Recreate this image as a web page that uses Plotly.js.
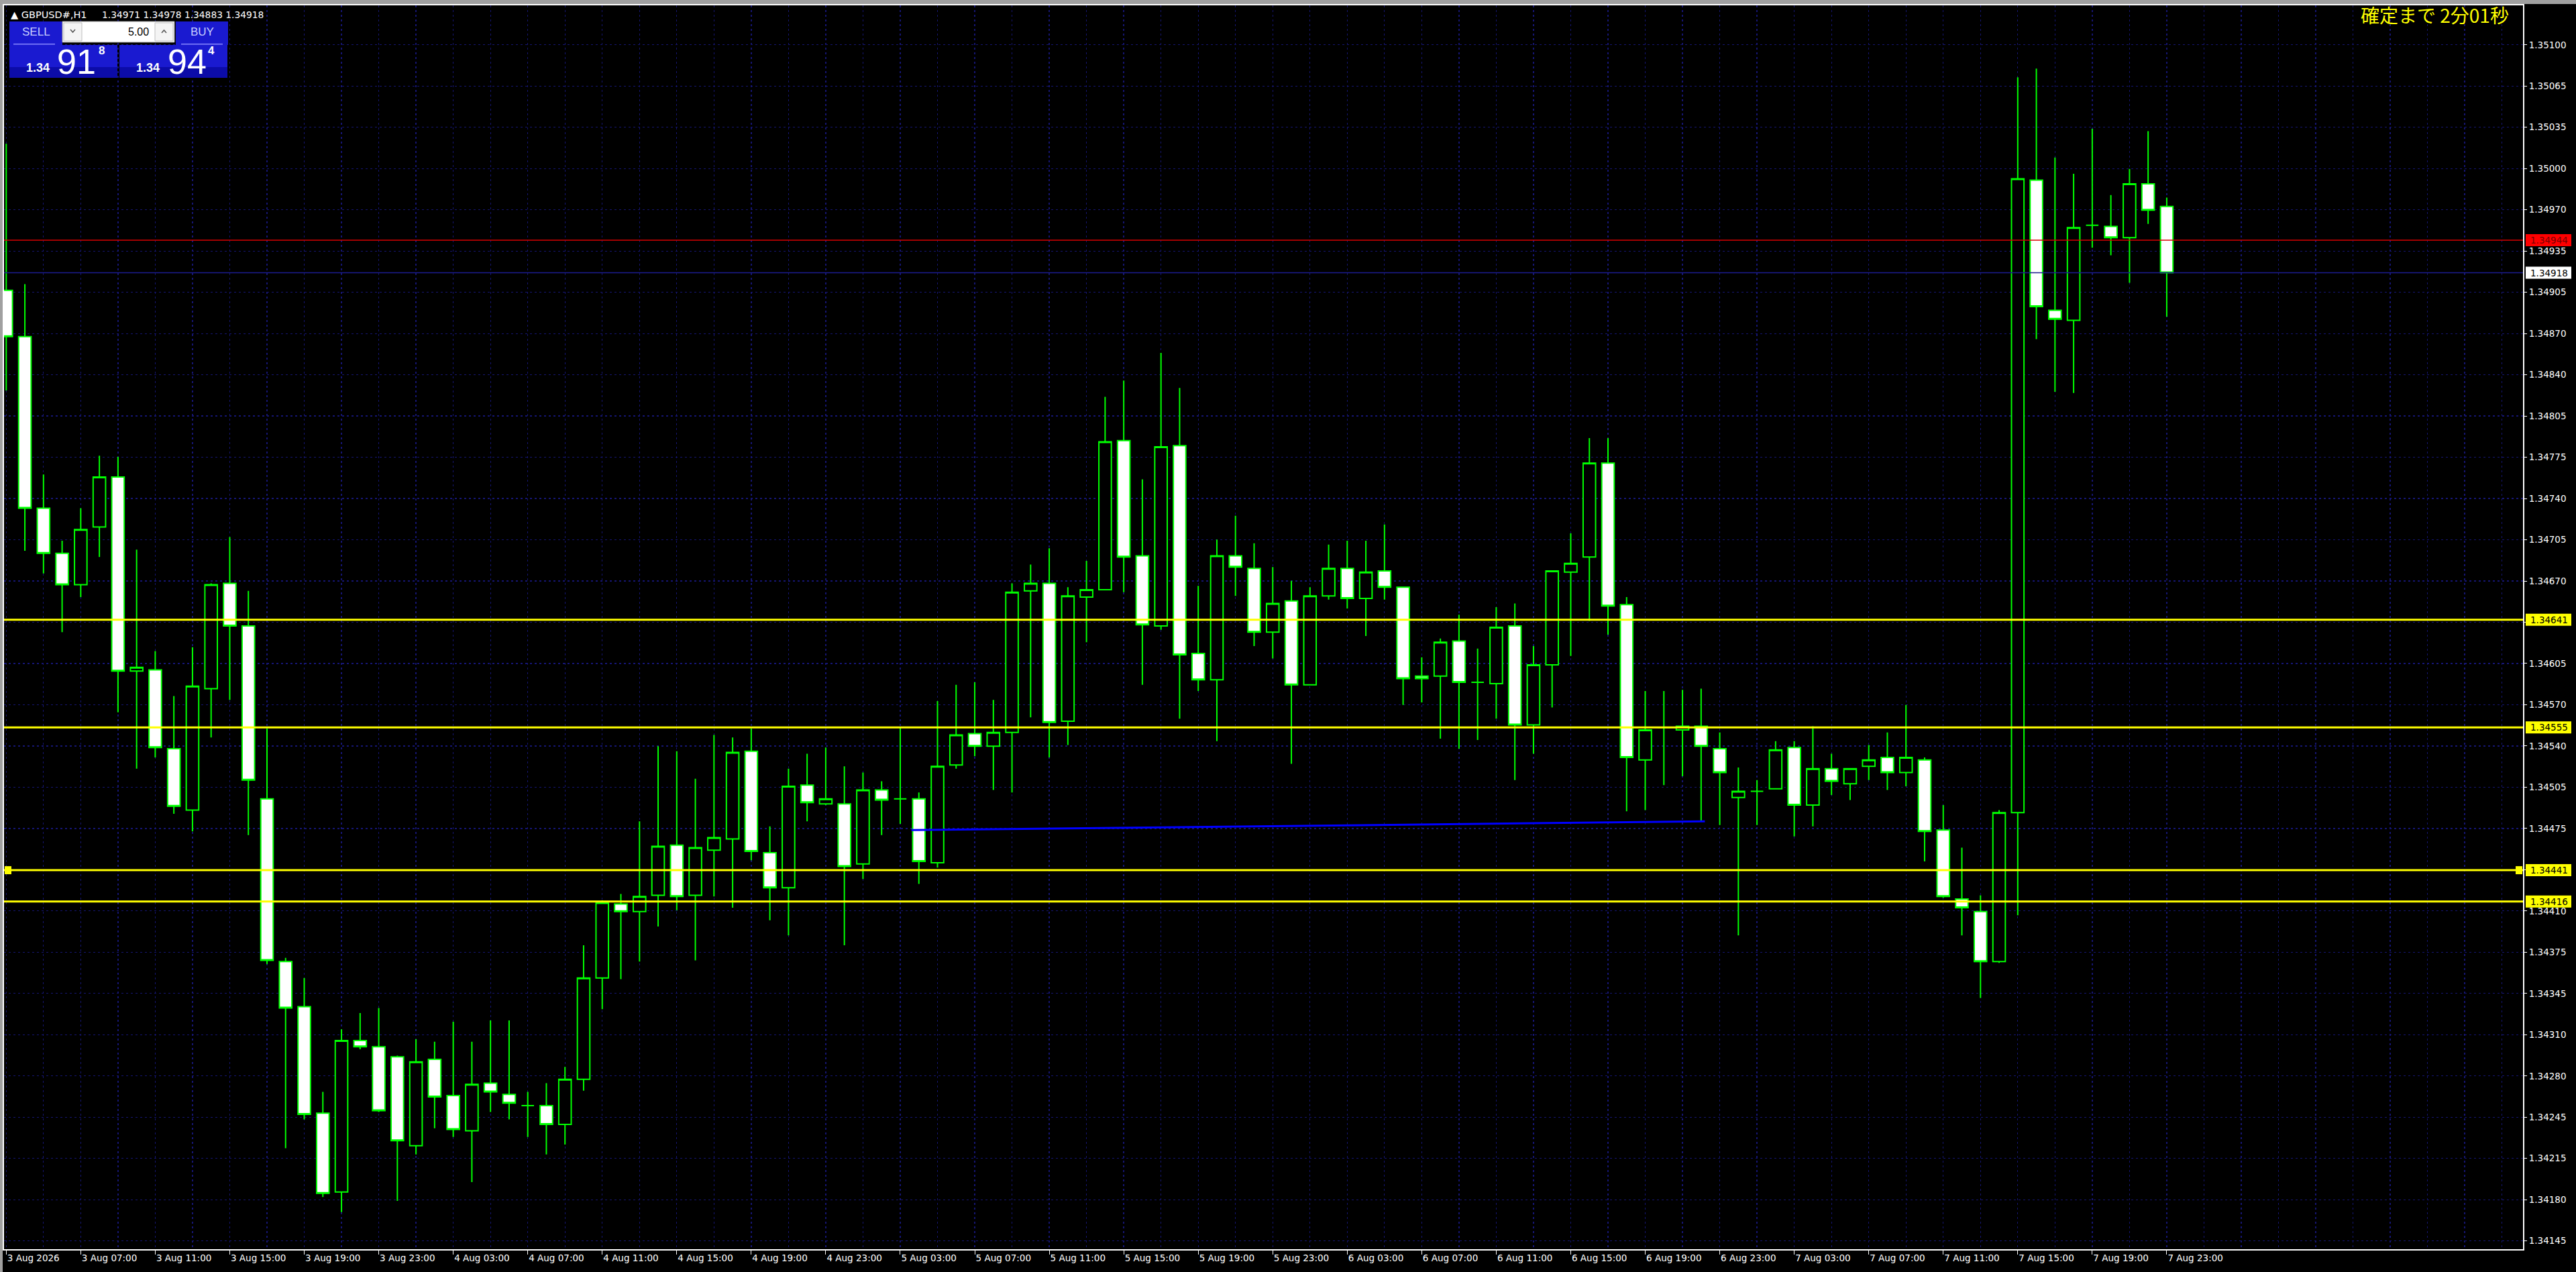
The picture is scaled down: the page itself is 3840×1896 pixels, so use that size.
<!DOCTYPE html>
<html>
<head>
<meta charset="utf-8">
<script src="https://cdn.plot.ly/plotly-3.0.1.min.js"></script>
<style>
html,body{margin:0;padding:0;background:#000;}
#chart{width:3840px;height:1896px;}
</style>
</head>
<body>
<div id="chart"></div>
<script>
// ---------------- DATA (GBPUSD#, H1, bars from 3 Aug 2026 03:00 to 7 Aug 2026 23:00) ----------------
const barIndex = Array.from({length: 117}, (_, i) => i);

const openP = [
1.34904,1.34867,1.34730,1.34694,1.34669,1.34715,1.34755,1.34600,1.34601,1.34538,
1.34489,1.34586,1.34670,1.34636,1.34498,1.34368,1.34332,1.34247,1.34184,1.34305,
1.34300,1.34292,1.34221,1.34290,1.34261,1.34233,1.34271,1.34262,1.34253,1.34253,
1.34238,1.34274,1.34355,1.34414,1.34408,1.34421,1.34461,1.34421,1.34457,1.34466,
1.34536,1.34455,1.34427,1.34509,1.34494,1.34494,1.34446,1.34505,1.34498,1.34498,
1.34447,1.34525,1.34550,1.34540,1.34551,1.34664,1.34670,1.34560,1.34659,1.34665,
1.34784,1.34692,1.34636,1.34780,1.34614,1.34593,1.34692,1.34682,1.34631,1.34656,
1.34589,1.34660,1.34682,1.34658,1.34680,1.34667,1.34596,1.34596,1.34624,1.34591,
1.34590,1.34636,1.34557,1.34605,1.34679,1.34691,1.34766,1.34653,1.34529,1.34555,
1.34553,1.34556,1.34538,1.34499,1.34504,1.34506,1.34539,1.34493,1.34522,1.34510,
1.34524,1.34531,1.34519,1.34529,1.34473,1.34418,1.34408,1.34368,1.34487,1.34992,
1.34888,1.34880,1.34956,1.34955,1.34946,1.34989,1.34971];

const highP = [
1.35021,1.34909,1.34757,1.34704,1.34730,1.34772,1.34771,1.34697,1.34616,1.34580,
1.34619,1.34670,1.34707,1.34664,1.34554,1.34371,1.34355,1.34264,1.34314,1.34327,
1.34331,1.34293,1.34306,1.34304,1.34320,1.34304,1.34321,1.34321,1.34264,1.34271,
1.34284,1.34381,1.34417,1.34422,1.34480,1.34540,1.34536,1.34514,1.34549,1.34547,
1.34554,1.34476,1.34522,1.34534,1.34539,1.34524,1.34519,1.34512,1.34555,1.34503,
1.34576,1.34589,1.34591,1.34577,1.34670,1.34685,1.34698,1.34667,1.34688,1.34819,
1.34832,1.34753,1.34854,1.34826,1.34668,1.34705,1.34724,1.34702,1.34683,1.34672,
1.34667,1.34701,1.34704,1.34704,1.34717,1.34667,1.34611,1.34626,1.34645,1.34618,
1.34651,1.34654,1.34620,1.34680,1.34710,1.34786,1.34786,1.34659,1.34584,1.34584,
1.34585,1.34586,1.34551,1.34523,1.34513,1.34544,1.34544,1.34556,1.34534,1.34522,
1.34541,1.34551,1.34573,1.34531,1.34493,1.34459,1.34421,1.34489,1.35074,1.35081,
1.35010,1.34997,1.35033,1.34980,1.35001,1.35031,1.34978];

const lowP = [
1.34824,1.34696,1.34678,1.34631,1.34659,1.34691,1.34567,1.34522,1.34531,1.34486,
1.34472,1.34547,1.34577,1.34469,1.34366,1.34219,1.34242,1.34180,1.34168,1.34298,
1.34248,1.34177,1.34214,1.34235,1.34228,1.34192,1.34248,1.34242,1.34228,1.34214,
1.34222,1.34265,1.34330,1.34354,1.34368,1.34396,1.34409,1.34369,1.34420,1.34411,
1.34449,1.34401,1.34389,1.34480,1.34493,1.34381,1.34434,1.34469,1.34478,1.34430,
1.34443,1.34522,1.34532,1.34505,1.34503,1.34563,1.34531,1.34541,1.34623,1.34665,
1.34663,1.34589,1.34633,1.34562,1.34584,1.34544,1.34660,1.34620,1.34610,1.34526,
1.34589,1.34657,1.34650,1.34628,1.34657,1.34573,1.34575,1.34546,1.34538,1.34545,
1.34562,1.34513,1.34534,1.34571,1.34612,1.34640,1.34629,1.34488,1.34489,1.34509,
1.34516,1.34480,1.34477,1.34389,1.34477,1.34506,1.34468,1.34476,1.34501,1.34497,
1.34513,1.34505,1.34508,1.34448,1.34419,1.34389,1.34339,1.34367,1.34405,1.34865,
1.34823,1.34822,1.34938,1.34932,1.34910,1.34957,1.34883];

const closeP = [
1.34867,1.34730,1.34694,1.34669,1.34713,1.34755,1.34600,1.34603,1.34539,1.34492,
1.34588,1.34669,1.34636,1.34513,1.34369,1.34331,1.34246,1.34183,1.34305,1.34300,
1.34249,1.34225,1.34288,1.34260,1.34234,1.34270,1.34264,1.34255,1.34253,1.34238,
1.34274,1.34355,1.34415,1.34408,1.34420,1.34460,1.34420,1.34459,1.34467,1.34535,
1.34456,1.34427,1.34508,1.34495,1.34498,1.34444,1.34505,1.34497,1.34498,1.34448,
1.34524,1.34549,1.34540,1.34551,1.34663,1.34670,1.34559,1.34660,1.34665,1.34783,
1.34691,1.34637,1.34779,1.34613,1.34593,1.34692,1.34683,1.34631,1.34654,1.34589,
1.34660,1.34682,1.34658,1.34679,1.34667,1.34594,1.34594,1.34623,1.34591,1.34591,
1.34635,1.34557,1.34605,1.34680,1.34686,1.34766,1.34652,1.34531,1.34553,1.34555,
1.34556,1.34540,1.34519,1.34504,1.34504,1.34537,1.34493,1.34522,1.34512,1.34522,
1.34529,1.34519,1.34531,1.34472,1.34420,1.34411,1.34368,1.34487,1.34993,1.34891,
1.34881,1.34954,1.34956,1.34946,1.34989,1.34968,1.34918];

// time axis labels (one every 4 bars)
const timeLabels = [
"3 Aug 2026","3 Aug 07:00","3 Aug 11:00","3 Aug 15:00","3 Aug 19:00","3 Aug 23:00",
"4 Aug 03:00","4 Aug 07:00","4 Aug 11:00","4 Aug 15:00","4 Aug 19:00","4 Aug 23:00",
"5 Aug 03:00","5 Aug 07:00","5 Aug 11:00","5 Aug 15:00","5 Aug 19:00","5 Aug 23:00",
"6 Aug 03:00","6 Aug 07:00","6 Aug 11:00","6 Aug 15:00","6 Aug 19:00","6 Aug 23:00",
"7 Aug 03:00","7 Aug 07:00","7 Aug 11:00","7 Aug 15:00","7 Aug 19:00","7 Aug 23:00"];
const timeLabelStep = 4;

// price scale labels
const priceLabels = [
"1.35100","1.35065","1.35035","1.35000","1.34970","1.34935","1.34905","1.34870","1.34840","1.34805",
"1.34775","1.34740","1.34705","1.34670","1.34635","1.34605","1.34570","1.34540","1.34505","1.34475",
"1.34440","1.34410","1.34375","1.34345","1.34310","1.34280","1.34245","1.34215","1.34180","1.34145"];

// horizontal levels
const yellowLevels = [1.34641, 1.34555, 1.34441, 1.34416];
const askLevel = 1.34944;
const bidLevel = 1.34918;

// trend line (bar position, price)
const trendX = [48.6, 91.2];
const trendY = [1.34473, 1.34480];

// header / trading panel texts
const symbolText = "GBPUSD#,H1";
const headerOHLC = ["1.34971","1.34978","1.34883","1.34918"];
const lotSize = "5.00";
const sellQuote = {pre:"1.34", big:"91", sup:"8"};
const buyQuote  = {pre:"1.34", big:"94", sup:"4"};
const timerText = "確定まで 2分01秒";

// ---------------- LAYOUT GEOMETRY ----------------
const W = 3840, H = 1896;
const PL = 6, PR = 3761, PT = 8, PB = 1862;
const px = x => (x - PL) / (PR - PL);
const py = y => (PB - y) / (PB - PT);
const yTop = 1.351315, yBot = 1.341384;
const barW = 27.764, bar0X = 9.3;
const xMin = (PL - bar0X) / barW, xMax = (PR - bar0X) / barW;

const first = parseFloat(priceLabels[0]), last = parseFloat(priceLabels[priceLabels.length-1]);
const priceTickVals = priceLabels.map((_, i) => first + (last - first) * i / (priceLabels.length - 1));
const timeTickVals = timeLabels.map((_, i) => i * timeLabelStep);

const GRID = '#151572';
const AXFONT = {family: 'DejaVu Sans', size: 13.5, color: '#ffffff'};

const traces = [{
  type: 'candlestick',
  x: barIndex, open: openP, high: highP, low: lowP, close: closeP,
  increasing: {line: {color: '#00ff00', width: 2}, fillcolor: '#000000'},
  decreasing: {line: {color: '#00ff00', width: 2}, fillcolor: '#ffffff'},
  whiskerwidth: 0,
  hoverinfo: 'skip',
  showlegend: false
}, {
  type: 'scatter', mode: 'lines',
  x: trendX, y: trendY,
  line: {color: '#0000ff', width: 3},
  hoverinfo: 'skip', showlegend: false
}];

const shapes = [];
const annotations = [];

// horizontal yellow levels
yellowLevels.forEach(v => {
  shapes.push({type: 'line', xref: 'paper', x0: 0, x1: 1, yref: 'y', y0: v, y1: v,
    line: {color: '#ffff00', width: 3}, layer: 'above'});
});
// ask (red) and bid lines
shapes.push({type: 'line', xref: 'paper', x0: 0, x1: 1, yref: 'y', y0: askLevel, y1: askLevel,
  line: {color: '#d80000', width: 1.5}, layer: 'above'});
shapes.push({type: 'line', xref: 'paper', x0: 0, x1: 1, yref: 'y', y0: bidLevel, y1: bidLevel,
  line: {color: '#1c1c90', width: 1.5}, layer: 'above'});

// selection markers of the 1.34441 line
shapes.push({type: 'rect', xref: 'paper', yref: 'y', xsizemode: 'pixel', xanchor: 0, x0: 1, x1: 11,
  ysizemode: 'pixel', yanchor: yellowLevels[2], y0: -6, y1: 6, fillcolor: '#ffff00', line: {width: 0}, layer: 'above'});
shapes.push({type: 'rect', xref: 'paper', yref: 'y', xsizemode: 'pixel', xanchor: 1, x0: -11, x1: -1,
  ysizemode: 'pixel', yanchor: yellowLevels[2], y0: -6, y1: 6, fillcolor: '#ffff00', line: {width: 0}, layer: 'above'});

// right-side price boxes
function priceBox(v, bg, fg) {
  shapes.push({type: 'rect', xref: 'paper', yref: 'y', xsizemode: 'pixel', xanchor: 1, x0: 4, x1: 72,
    ysizemode: 'pixel', yanchor: v, y0: -9, y1: 9, fillcolor: bg, line: {width: 0}, layer: 'above'});
  annotations.push({xref: 'paper', yref: 'y', x: px(3800), y: v, xanchor: 'center', yanchor: 'middle',
    text: v.toFixed(5), showarrow: false, font: {family: 'DejaVu Sans', size: 13.5, color: fg}});
}
yellowLevels.forEach(v => priceBox(v, '#ffff00', '#000000'));
priceBox(askLevel, '#ff0000', '#7a0000');
priceBox(bidLevel, '#ffffff', '#000000');

// window chrome: grey band top and left
shapes.push({type: 'rect', xref: 'paper', yref: 'paper', x0: px(0), x1: px(W), y0: py(6), y1: py(0),
  fillcolor: '#a0a0a0', line: {width: 0}, layer: 'above'});
shapes.push({type: 'rect', xref: 'paper', yref: 'paper', x0: px(0), x1: px(4), y0: py(H), y1: py(0),
  fillcolor: '#a0a0a0', line: {width: 0}, layer: 'above'});

// header text
annotations.push({xref: 'paper', yref: 'paper', x: px(14), y: py(22), xanchor: 'left', yanchor: 'middle',
  text: '▲ ' + symbolText, showarrow: false, font: {family: 'DejaVu Sans', size: 14.5, color: '#ffffff'}});
annotations.push({xref: 'paper', yref: 'paper', x: px(150), y: py(22), xanchor: 'left', yanchor: 'middle',
  text: headerOHLC.join(' '), showarrow: false, font: {family: 'DejaVu Sans', size: 13.8, color: '#ffffff'}});

// timer text
annotations.push({xref: 'paper', yref: 'paper', x: px(3742), y: py(22), xanchor: 'right', yanchor: 'middle',
  text: timerText, showarrow: false, font: {family: 'Noto Sans CJK JP', size: 28, color: '#ffff00'}});

// one-click trading panel
function prect(x0, y0, x1, y1, fill, lineColor, lw) {
  shapes.push({type: 'rect', xref: 'paper', yref: 'paper', x0: px(x0), x1: px(x1), y0: py(y1), y1: py(y0),
    fillcolor: fill, line: {color: lineColor || fill, width: lw || 0}, layer: 'above'});
}
function ppath(pts, color, w) {
  const d = pts.map((p, i) => (i ? 'L' : 'M') + px(p[0]) + ',' + py(p[1])).join(' ');
  shapes.push({type: 'path', xref: 'paper', yref: 'paper', path: d, line: {color: color, width: w}, layer: 'above'});
}
function ptext(x, y, t, size, color, anchor, weight) {
  annotations.push({xref: 'paper', yref: 'paper', x: px(x), y: py(y), xanchor: anchor || 'center', yanchor: 'middle',
    text: t, showarrow: false, font: {family: 'Liberation Sans', size: size, color: color, weight: weight || 'normal'}});
}
const BLUE = '#1a1ad0', BLUE_D = '#0c0ca8';
prect(14, 32, 93, 67, BLUE);
prect(262, 32, 340, 67, BLUE);
prect(14, 67, 175, 116, BLUE);
prect(178, 67, 339, 116, BLUE);
prect(14, 100, 175, 116, BLUE_D);
prect(178, 100, 339, 116, BLUE_D);
prect(20, 65, 82, 66.5, '#8a8aff');
prect(270, 65, 332, 66.5, '#8a8aff');
prect(93, 32, 260, 63, '#ffffff', '#9a9a9a', 1);
prect(95, 34, 122, 61, '#f4f4f4', '#c0c0c0', 1);
prect(231, 34, 258, 61, '#f4f4f4', '#c0c0c0', 1);
ppath([[105, 44], [108.5, 48], [112, 44]], '#555555', 1.5);
ppath([[241, 49], [244.5, 45], [248, 49]], '#555555', 1.5);
ptext(54, 47, 'SELL', 17, '#c8d0ff');
ptext(301, 47, 'BUY', 17, '#c8d0ff');
ptext(224, 47, lotSize, 16, '#000000', 'right');
ptext(37, 101, sellQuote.pre, 18, '#ffffff', 'left', 'bold');
ptext(83, 92, sellQuote.big, 52, '#ffffff', 'left');
ptext(151, 75, sellQuote.sup, 17, '#ffffff', 'center', 'bold');
ptext(201, 101, buyQuote.pre, 18, '#ffffff', 'left', 'bold');
ptext(248, 92, buyQuote.big, 52, '#ffffff', 'left');
ptext(315, 75, buyQuote.sup, 17, '#ffffff', 'center', 'bold');

const layout = {
  width: W, height: H,
  margin: {l: PL, r: W - PR, t: PT, b: H - PB, pad: 0},
  paper_bgcolor: '#000000', plot_bgcolor: '#000000',
  showlegend: false,
  boxgap: 0.33, boxgroupgap: 0,
  xaxis: {
    type: 'linear', range: [xMin, xMax], fixedrange: true,
    rangeslider: {visible: false},
    tickmode: 'array', tickvals: timeTickVals, ticktext: timeLabels,
    ticks: 'outside', ticklen: 6, tickcolor: '#ffffff', tickwidth: 1,
    ticklabelposition: 'outside right',
    tickfont: AXFONT,
    showgrid: true, gridcolor: GRID, griddash: '3px,4px', gridwidth: 1.3,
    minor: {tickmode: 'linear', tick0: 0, dtick: 2, showgrid: true, gridcolor: GRID, griddash: '3px,4px', gridwidth: 1.3, ticks: ''},
    showline: true, linecolor: '#ffffff', linewidth: 2, mirror: true,
    zeroline: false
  },
  yaxis: {
    range: [yBot, yTop], side: 'right', fixedrange: true,
    tickmode: 'array', tickvals: priceTickVals, ticktext: priceLabels,
    ticks: 'outside', ticklen: 4, tickcolor: '#ffffff', tickwidth: 1,
    tickfont: AXFONT,
    showgrid: true, gridcolor: GRID, griddash: '3px,4px', gridwidth: 1.3,
    showline: true, linecolor: '#ffffff', linewidth: 2, mirror: true,
    zeroline: false
  },
  shapes: shapes,
  annotations: annotations
};

Plotly.newPlot('chart', traces, layout, {displayModeBar: false, staticPlot: true});
</script>
</body>
</html>
